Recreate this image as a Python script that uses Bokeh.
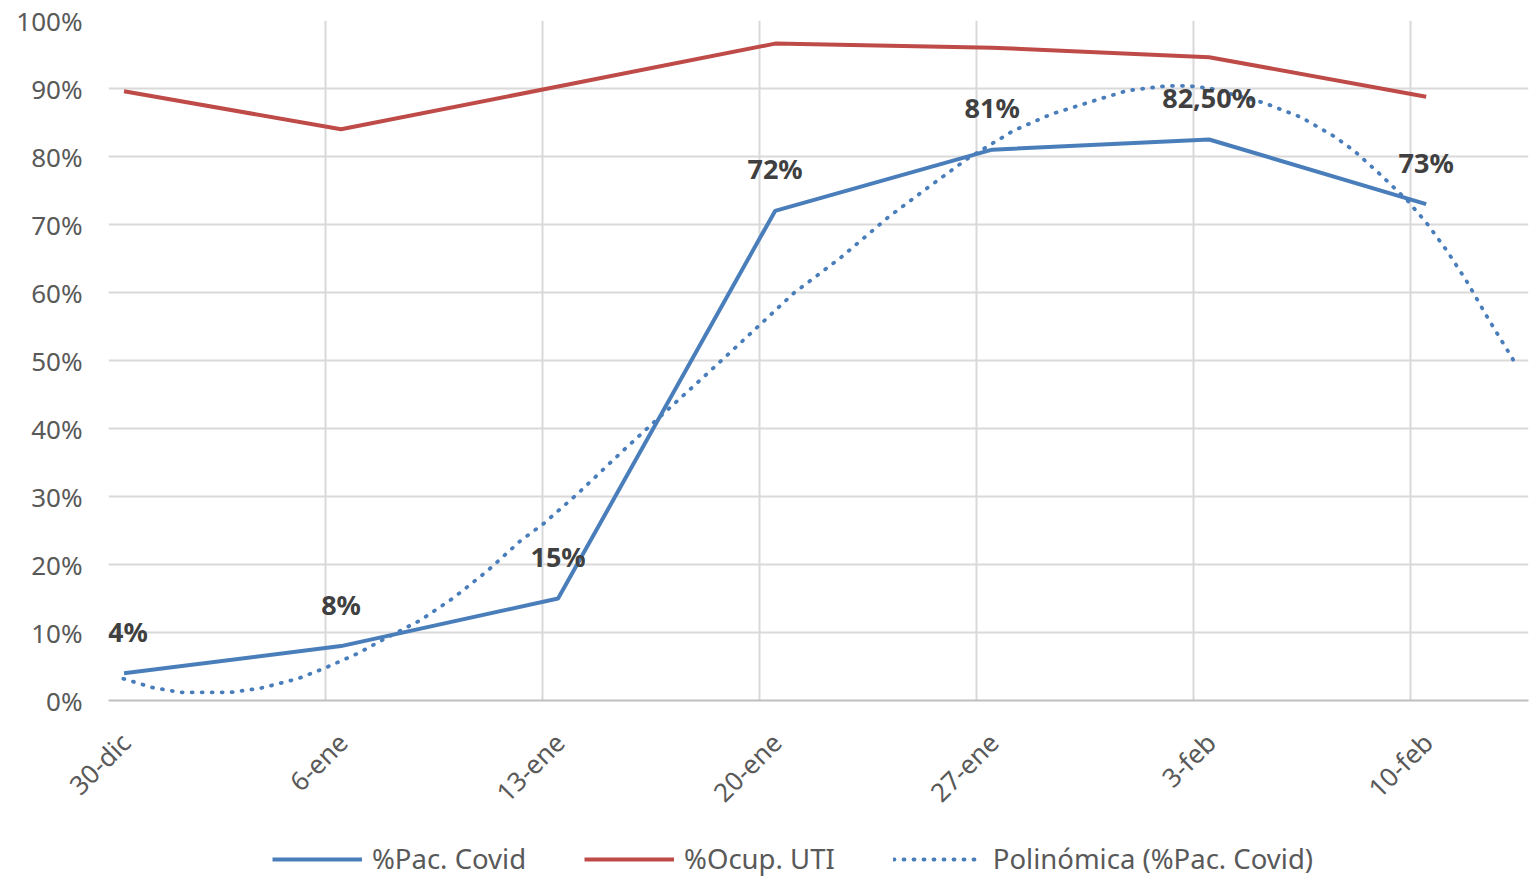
import math
from bokeh.plotting import figure
from bokeh.layouts import column
from bokeh.models import (ColumnDataSource, FixedTicker, NumeralTickFormatter,
                          Legend, LegendItem, LabelSet, Range1d)
from bokeh.core.properties import value
from bokeh.embed import file_html
from bokeh.resources import INLINE

# ---------------- data ----------------
dates = ["30-dic", "6-ene", "13-ene", "20-ene", "27-ene", "3-feb", "10-feb"]
day_num = [0, 7, 14, 21, 28, 35, 42]          # days since 30-dic
pac_covid = [0.04, 0.08, 0.15, 0.72, 0.81, 0.825, 0.73]
ocup_uti = [0.896, 0.840, 0.903, 0.966, 0.960, 0.946, 0.888]
point_labels = ["4%", "8%", "15%", "72%", "81%", "82,50%", "73%"]
series_names = ["%Pac. Covid", "%Ocup. UTI", "Polinómica (%Pac. Covid)"]

# polynomial trendline (day, value)
trend_day = [0.48, 1.42, 2.32, 3.29, 3.94, 4.90, 6.10, 6.94, 8.03, 9.0, 10.06,
             11.13, 12.23, 13.29, 14.03, 15.13, 16.61, 17.90, 19.32, 20.81,
             22.10, 23.61, 25.13, 26.42, 27.71, 29.19, 30.39, 32.0, 32.87,
             34.16, 34.81, 35.55, 37.26, 38.45, 39.52, 40.16, 40.94, 41.90,
             42.55, 43.19, 43.84, 44.48, 45.32]
trend_val = [0.032, 0.019, 0.012, 0.012, 0.012, 0.018, 0.032, 0.047, 0.069,
             0.093, 0.118, 0.151, 0.191, 0.235, 0.260, 0.304, 0.368, 0.422,
             0.481, 0.544, 0.599, 0.651, 0.710, 0.754, 0.797, 0.838, 0.862,
             0.885, 0.897, 0.904, 0.904, 0.900, 0.879, 0.858, 0.830, 0.809,
             0.777, 0.735, 0.700, 0.660, 0.614, 0.563, 0.500]

y_ticks = [i / 10 for i in range(11)]

BLUE = "#4A7EBB"
RED = "#BE4B48"
GRID = "#D9D9D9"
TXT = "#595959"
FONT = "Noto Sans"

x_pts = [d + 0.5 for d in day_num]          # points sit at midday
label_ticks = [d + 0.55 for d in day_num]   # rotated labels end just right of the grid line
# first data label nudged so it is not clipped by the plot frame
label_dx = [4 if i == 0 else 0 for i in range(len(day_num))]

src = ColumnDataSource(dict(x=x_pts, pac=pac_covid, uti=ocup_uti,
                            lab=point_labels, dx=label_dx))
tsrc = ColumnDataSource(dict(x=trend_day, y=trend_val))

p = figure(width=1530, height=835, output_backend="svg", toolbar_location=None,
           x_range=Range1d(0, 45.8), y_range=Range1d(0, 1))
p.min_border_left = 108
p.min_border_right = 2
p.min_border_top = 20
p.min_border_bottom = 135
p.outline_line_color = None
p.background_fill_color = "white"
p.border_fill_color = "white"

# grids
p.xgrid.ticker = FixedTicker(ticks=day_num)
p.ygrid.ticker = FixedTicker(ticks=y_ticks)
for g in (p.xgrid, p.ygrid):
    g.grid_line_color = GRID
    g.grid_line_width = 2

# axes
xa = p.xaxis[0]
xa.ticker = FixedTicker(ticks=label_ticks)
xa.major_label_overrides = {t: s for t, s in zip(label_ticks, dates)}
xa.major_label_orientation = math.pi / 4
xa.major_label_text_font = FONT
xa.major_label_text_font_size = "26px"
xa.major_label_text_color = TXT
xa.major_tick_line_color = None
xa.minor_tick_line_color = None
xa.major_tick_out = 0
xa.major_tick_in = 0
xa.major_label_standoff = 37
xa.axis_line_color = "#BFBFBF"
xa.axis_line_width = 2

ya = p.yaxis[0]
ya.ticker = FixedTicker(ticks=y_ticks)
ya.formatter = NumeralTickFormatter(format="0%")
ya.major_label_text_font = FONT
ya.major_label_text_font_size = "26px"
ya.major_label_text_color = TXT
ya.major_tick_line_color = None
ya.minor_tick_line_color = None
ya.major_tick_out = 0
ya.major_tick_in = 0
ya.major_label_standoff = 26
ya.axis_line_color = None

# series
p.line("x", "pac", source=src, line_color=BLUE, line_width=4)
p.line("x", "uti", source=src, line_color=RED, line_width=4)
p.line("x", "y", source=tsrc, line_color=BLUE, line_width=3.8,
       line_dash="1 9", line_cap="round")

labels = LabelSet(x="x", y="pac", text="lab", source=src, y_offset=42,
                  x_offset="dx",
                  text_align="center", text_baseline="middle",
                  text_font=value(FONT), text_font_size="27px",
                  text_font_style="bold", text_color="#404040")
p.add_layout(labels)

# ---------------- legend strip ----------------
lg = figure(width=1530, height=42, output_backend="svg", toolbar_location=None,
            x_range=Range1d(0, 1), y_range=Range1d(0, 1))
lg.min_border = 0
lg.outline_line_color = None
lg.axis.visible = False
lg.grid.visible = False
off = dict(x=[-5, -4], y=[-5, -4])   # keys only: kept outside the visible range
k1 = lg.line(x=off["x"], y=off["y"], line_color=BLUE, line_width=4)
k2 = lg.line(x=off["x"], y=off["y"], line_color=RED, line_width=4)
k3 = lg.line(x=off["x"], y=off["y"], line_color=BLUE, line_width=3.8,
             line_dash="1 9", line_cap="round")
legend = Legend(items=[LegendItem(label=series_names[0], renderers=[k1]),
                       LegendItem(label=series_names[1], renderers=[k2]),
                       LegendItem(label=series_names[2], renderers=[k3])],
                orientation="horizontal", location=(164, 0),
                glyph_width=90, label_standoff=10, spacing=58,
                padding=0, margin=0, border_line_color=None,
                background_fill_alpha=0,
                label_text_font=FONT, label_text_font_size="27.5px",
                label_text_color=TXT)
lg.add_layout(legend, "center")

layout = column(p, lg, spacing=0)
open("out.html", "w").write(file_html(layout, INLINE))
